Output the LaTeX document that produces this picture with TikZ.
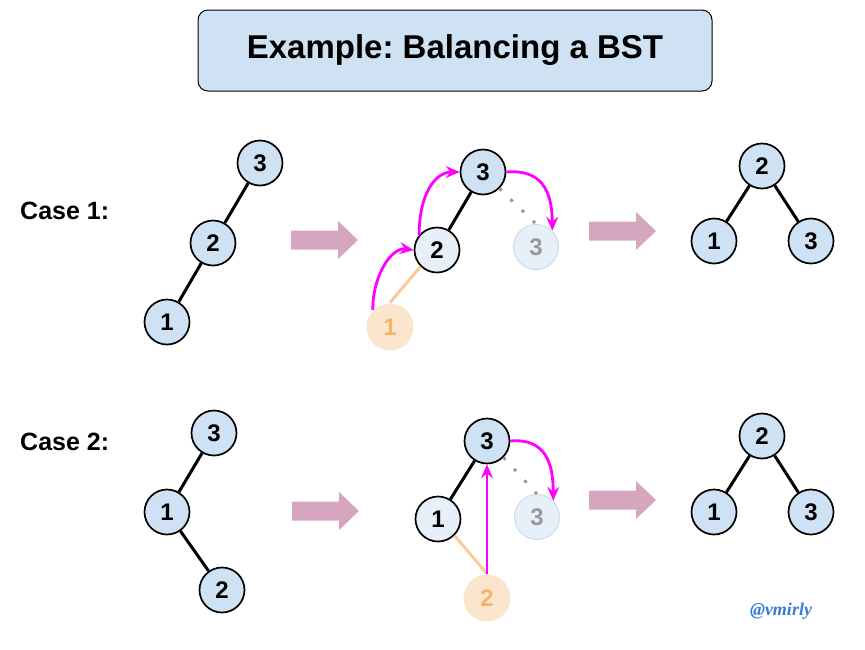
\documentclass[tikz,border=0pt]{standalone}
\usepackage{fontspec}
\setmainfont{Liberation Sans}
\newfontfamily\wmfont{Liberation Serif}
\usetikzlibrary{arrows.meta}
\definecolor{nodeblue}{HTML}{CFE2F3}
\definecolor{lightblue}{HTML}{E7F0F9}
\definecolor{ghostborder}{HTML}{C9DCEF}
\definecolor{ghosttext}{HTML}{999999}
\definecolor{orangefill}{HTML}{FCE5CD}
\definecolor{orangetext}{HTML}{F6B26B}
\definecolor{orangeline}{HTML}{F9CB9C}
\definecolor{arrowpink}{HTML}{D5A6BD}
\definecolor{mag}{HTML}{FF00FF}
\definecolor{wmblue}{HTML}{3C78D8}
\newcommand\fatarr[2]{\fill[arrowpink,shift={(#1,#2)}] (0,-9.5) -- (47,-9.5) -- (47,-19) -- (67,0) -- (47,19) -- (47,9.5) -- (0,9.5) -- cycle;}
\frenchspacing
\begin{document}
\begin{tikzpicture}[x=1pt,y=-1pt,
  tnode/.style={circle, draw=black, line width=1.7pt, fill=nodeblue, minimum size=45pt, inner sep=0pt, font=\fontsize{24}{24}\selectfont\bfseries},
  lnode/.style={tnode, fill=lightblue},
  ghost/.style={tnode, draw=ghostborder, line width=1pt, fill=lightblue, text=ghosttext},
  onode/.style={tnode, draw=none, fill=orangefill, text=orangetext, minimum size=47pt},
  edge/.style={line width=3pt, black},
  oedge/.style={line width=3pt, orangeline},
  dotedge/.style={line width=3pt, ghosttext, dash pattern=on 3pt off 12.5pt},
  magarrow/.style={line width=2.8pt, mag, -{Stealth[length=14pt,width=12pt,inset=5pt]}},
  caselabel/.style={font=\fontsize{25}{25}\selectfont\bfseries, anchor=west, inner sep=0pt}
]
\useasboundingbox (0,0) rectangle (865,649);
% title
\node[draw=black, line width=1pt, fill=nodeblue, rounded corners=10pt, minimum width=514pt, minimum height=81pt, font=\fontsize{33}{33}\selectfont\bfseries] (title) at (455,50.5) {Example: Balancing a BST};
% labels
\node[caselabel] (c1) at (20,211) {Case 1:};
\node[caselabel] (c2) at (20,442) {Case 2:};
% fat arrows
\fatarr{291}{240}
\fatarr{589}{231}
\fatarr{292}{511}
\fatarr{589}{500}
% ---------- Case 1 ----------
\node[tnode] (a3) at (260,163) {3};
\node[tnode] (a2) at (213,243) {2};
\node[tnode] (a1) at (167,322) {1};
\draw[edge] (a3) -- (a2);
\draw[edge] (a2) -- (a1);

\node[tnode] (m3) at (483,172) {3};
\node[lnode] (m2) at (437,250) {2};
\node[ghost] (g1) at (536,247) {3};
\node[onode] (o1) at (390,327) {1};
\draw[edge] (m3) -- (m2);
\draw[oedge] (o1.north) -- (m2.south west);
\draw[dotedge] (m3.south east) -- (g1.north);
\draw[magarrow] (o1.135) .. controls +(0,-35) and +(-22,-3) .. (m2.west);
\draw[magarrow] (m2.140) .. controls +(0,-40) and +(-25,0) .. (m3.west);
\draw[magarrow] (m3.east) .. controls +(35,-3) and +(0,-40) .. (g1.45);

\node[tnode] (r2) at (762,166) {2};
\node[tnode] (r1) at (714,241) {1};
\node[tnode] (r3) at (811,241) {3};
\draw[edge] (r2) -- (r1);
\draw[edge] (r2) -- (r3);
% ---------- Case 2 ----------
\node[tnode] (b3) at (214,433) {3};
\node[tnode] (b1) at (167,512) {1};
\node[tnode] (b2) at (222,590) {2};
\draw[edge] (b3) -- (b1);
\draw[edge] (b1) -- (b2);

\node[tnode] (n3) at (487,441) {3};
\node[lnode] (n1) at (438,519) {1};
\node[ghost] (g2) at (537,517) {3};
\node[onode] (o2) at (487,598) {2};
\draw[edge] (n3) -- (n1);
\draw[oedge] (o2.north) -- (n1.south east);
\draw[dotedge] (n3.south east) -- (g2.north);
\draw[magarrow] (o2.north) -- (n3.south);
\draw[magarrow] (n3.east) .. controls +(35,-3) and +(0,-38) .. (g2.45);

\node[tnode] (s2) at (762,436) {2};
\node[tnode] (s1) at (714,512) {1};
\node[tnode] (s3) at (811,512) {3};
\draw[edge] (s2) -- (s1);
\draw[edge] (s2) -- (s3);
% watermark
\node[font=\wmfont\fontsize{18}{18}\selectfont\bfseries\itshape, text=wmblue] (wm) at (781,611) {@vmirly};
\end{tikzpicture}
\end{document}
